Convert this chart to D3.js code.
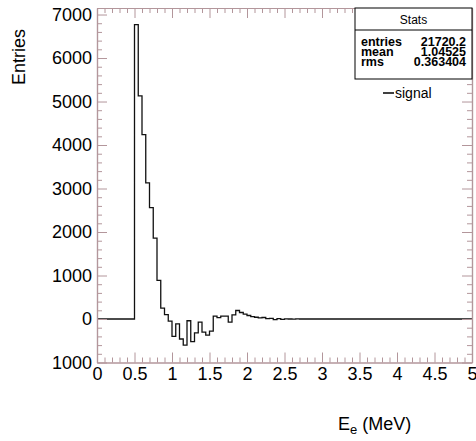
<!DOCTYPE html>
<html>
<head>
<meta charset="utf-8">
<script src="https://cdn.jsdelivr.net/npm/d3@7"></script>
<style>
  html, body { margin: 0; padding: 0; background: #fff; }
  svg { display: block; font-family: "Liberation Sans", Arial, Helvetica, sans-serif; }
</style>
</head>
<body>
<svg id="chart" width="476" height="441"></svg>
<script>
// ---- data ----
const binLow = 0, binHigh = 5, nBins = 100;
const binValues = [
  0, 0, 0, 0, 0, 0, 0, 0, 0, 0,
  6770, 5130, 4240, 3130, 2560, 1860, 890, 250, 100, -50,
  -400, -110, -460, -600, -40, -520, -320, -70, -300, -370,
  -280, 65, 30, 65, 65, -70, 95, 195, 150, 110,
  80, 55, 40, 25, 35, 10, 15, -15, 10, -10,
  5, 0, -5, 5, 0, 0, 0, 0, 0, 0,
  0, 0, 0, 0, 0, 0, 0, 0, 0, 0,
  0, 0, 0, 0, 0, 0, 0, 0, 0, 0,
  0, 0, 0, 0, 0, 0, 0, 0, 0, 0,
  0, 0, 0, 0, 0, 0, 0, 0, 0, 0
];
const xMajorTicks = [0, 0.5, 1, 1.5, 2, 2.5, 3, 3.5, 4, 4.5, 5];
const xTickLabels = ["0", "0.5", "1", "1.5", "2", "2.5", "3", "3.5", "4", "4.5", "5"];
const yMajorTicks = [-1000, 0, 1000, 2000, 3000, 4000, 5000, 6000, 7000];
const yTickLabels = ["1000", "0", "1000", "2000", "3000", "4000", "5000", "6000", "7000"];
const statNames = ["entries", "mean", "rms"];
const statValues = ["21720.2", "1.04525", "0.363404"];
const legendLabels = ["signal"];

// ---- layout ----
const svg = d3.select("#chart");
const L = 97, R = 472, T = 8, B = 362.5;
const axisColor = "#b3969b";

const x = d3.scaleLinear().domain([0, 5]).range([L, R]);
const y = d3.scaleLinear().domain([-1000, 7150]).range([B, T]);

const binW = (binHigh - binLow) / nBins;
const xMinorTicks = d3.range(0, 50).map(i => +(i * 0.1).toFixed(2)).filter(v => !xMajorTicks.includes(v));
const yMinorTicks = d3.range(-1000, 7150, 200).filter(v => !yMajorTicks.includes(v));

// ---- histogram ----
const pts = binValues.map((v, i) => [binLow + i * binW, v]);
pts.push([binHigh, binValues[nBins - 1]]);
const line = d3.line().x(d => x(d[0])).y(d => y(d[1])).curve(d3.curveStepAfter);
svg.append("path")
  .attr("d", line(pts))
  .attr("fill", "none")
  .attr("stroke", "#111")
  .attr("stroke-width", 1.3);

// ---- axes ----
function styleAxis(g) {
  g.selectAll("path.domain").attr("stroke", axisColor).attr("stroke-width", 1.2);
  g.selectAll(".tick line").attr("stroke", axisColor).attr("stroke-width", 1);
  g.selectAll(".tick text").attr("fill", "#000").style("font-size", "18px")
    .style("font-family", '"Liberation Sans", Arial, Helvetica, sans-serif');
}

// bottom
svg.append("g").attr("transform", `translate(0,${B})`)
  .call(d3.axisBottom(x).tickValues(xMinorTicks).tickFormat("").tickSizeInner(-5).tickSizeOuter(0))
  .call(styleAxis);
svg.append("g").attr("transform", `translate(0,${B})`)
  .call(d3.axisBottom(x).tickValues(xMajorTicks).tickFormat((d, i) => xTickLabels[i])
    .tickSizeInner(-10).tickSizeOuter(0).tickPadding(5))
  .call(styleAxis);
// top
svg.append("g").attr("transform", `translate(0,${T})`)
  .call(d3.axisTop(x).tickValues(xMinorTicks).tickFormat("").tickSizeInner(-5).tickSizeOuter(0))
  .call(styleAxis);
svg.append("g").attr("transform", `translate(0,${T})`)
  .call(d3.axisTop(x).tickValues(xMajorTicks).tickFormat("").tickSizeInner(-10).tickSizeOuter(0))
  .call(styleAxis);
// left
svg.append("g").attr("transform", `translate(${L},0)`)
  .call(d3.axisLeft(y).tickValues(yMinorTicks).tickFormat("").tickSizeInner(-5).tickSizeOuter(0))
  .call(styleAxis);
svg.append("g").attr("transform", `translate(${L},0)`)
  .call(d3.axisLeft(y).tickValues(yMajorTicks).tickFormat((d, i) => yTickLabels[i])
    .tickSizeInner(-10).tickSizeOuter(0).tickPadding(5))
  .call(styleAxis);
// right
svg.append("g").attr("transform", `translate(${R},0)`)
  .call(d3.axisRight(y).tickValues(yMinorTicks).tickFormat("").tickSizeInner(-5).tickSizeOuter(0))
  .call(styleAxis);
svg.append("g").attr("transform", `translate(${R},0)`)
  .call(d3.axisRight(y).tickValues(yMajorTicks).tickFormat("").tickSizeInner(-10).tickSizeOuter(0))
  .call(styleAxis);

// ---- axis titles ----
svg.append("text")
  .attr("transform", "translate(25,57) rotate(-90)")
  .attr("text-anchor", "middle")
  .style("font-size", "18px")
  .text("Entries");

const xt = svg.append("text")
  .attr("x", 338).attr("y", 430)
  .style("font-size", "18px");
xt.append("tspan").text("E");
xt.append("tspan").attr("dy", 4).style("font-size", "13px").text("e");
xt.append("tspan").attr("dy", -4).text(" (MeV)");

// ---- stats box ----
const sb = { x0: 355, x1: R, y0: T, ySep: 30, y1: 79 };
svg.append("rect")
  .attr("x", sb.x0).attr("y", sb.y0)
  .attr("width", sb.x1 - sb.x0).attr("height", sb.y1 - sb.y0)
  .attr("fill", "#fff").attr("stroke", "#000").attr("stroke-width", 1);
svg.append("line")
  .attr("x1", sb.x0).attr("x2", sb.x1).attr("y1", sb.ySep).attr("y2", sb.ySep)
  .attr("stroke", "#000").attr("stroke-width", 1);
svg.append("text")
  .attr("x", (sb.x0 + sb.x1) / 2).attr("y", 24)
  .attr("text-anchor", "middle")
  .style("font-size", "12px")
  .text("Stats");
statNames.forEach((n, i) => {
  svg.append("text")
    .attr("x", 361).attr("y", 46 + i * 9.8)
    .style("font-size", "12.5px").style("font-weight", "bold")
    .text(n);
  svg.append("text")
    .attr("x", 466).attr("y", 46 + i * 9.8)
    .attr("text-anchor", "end")
    .style("font-size", "12.5px").style("font-weight", "bold")
    .text(statValues[i]);
});

// ---- legend ----
legendLabels.forEach((lab, i) => {
  svg.append("line")
    .attr("x1", 383).attr("x2", 394).attr("y1", 93 + i * 16).attr("y2", 93 + i * 16)
    .attr("stroke", "#000").attr("stroke-width", 1.5);
  svg.append("text")
    .attr("x", 395).attr("y", 97.5 + i * 16)
    .style("font-size", "14px")
    .text(lab);
});
</script>
</body>
</html>
